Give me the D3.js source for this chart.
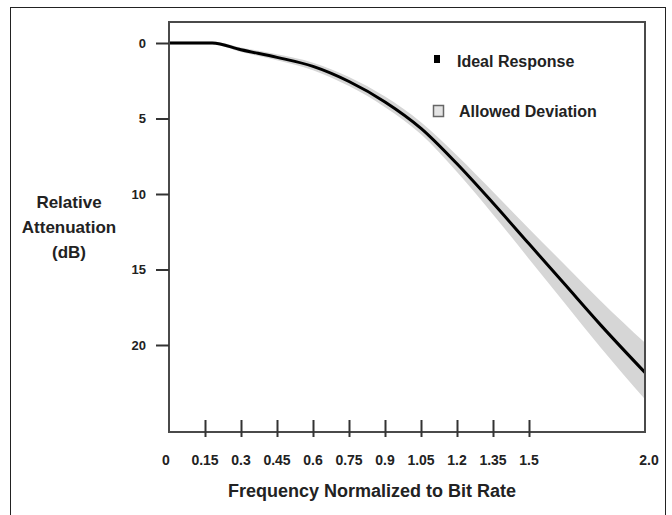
<!DOCTYPE html>
<html>
<head>
<meta charset="utf-8">
<script src="https://cdn.jsdelivr.net/npm/d3@7"></script>
<style>
  body { margin: 0; background: #fff; }
  svg { display: block; }
  text { font-family: "Liberation Sans", Arial, sans-serif; fill: #222; }
</style>
</head>
<body>
<svg id="chart"></svg>
<script>
const WIDTH = 672;
const HEIGHT = 515;

// normalized frequency (x) and relative attenuation in dB (y)
const freq = [0, 0.15, 0.18, 0.3, 0.45, 0.6, 0.75, 0.9, 1.05, 1.2, 1.35, 1.5, 1.65, 1.8, 2.0];
const ideal = [0, 0, 0, 0.45, 0.95, 1.55, 2.55, 3.9, 5.65, 8.0, 10.6, 13.3, 16.0, 18.7, 22.1];
const devUpper = [-0.1, -0.1, -0.1, 0.3, 0.75, 1.3, 2.25, 3.55, 5.25, 7.45, 9.85, 12.3, 14.7, 17.1, 20.1];
const devLower = [0.1, 0.1, 0.1, 0.6, 1.15, 1.8, 2.85, 4.25, 6.05, 8.55, 11.35, 14.3, 17.25, 20.2, 23.9];

const xTicks = [0.15, 0.3, 0.45, 0.6, 0.75, 0.9, 1.05, 1.2, 1.35, 1.5];
const xTickLabels = ['0', '0.15', '0.3', '0.45', '0.6', '0.75', '0.9', '1.05', '1.2', '1.35', '1.5', '2.0'];
const yTicks = [0, 5, 10, 15, 20];

const legendItems = ['Ideal Response', 'Allowed Deviation'];

const PLOT = { left: 169, top: 22, right: 645, bottom: 432 };

const svg = d3.select('#chart')
    .attr('width', WIDTH)
    .attr('height', HEIGHT);

// outer frame
svg.append('rect')
    .attr('x', 10.5).attr('y', 7.5)
    .attr('width', 655).attr('height', 530)
    .attr('fill', 'none')
    .attr('stroke', '#222')
    .attr('stroke-width', 1);

const xScale = d3.scaleLinear().domain([0, 2]).range([169, 649]);
const yScale = d3.scaleLinear().domain([0, 20]).range([43, 345]);

const data = freq.map((f, i) => ({ x: f, y: ideal[i], up: devUpper[i], lo: devLower[i] }));

svg.append('clipPath')
    .attr('id', 'plot-clip')
    .append('rect')
    .attr('x', PLOT.left).attr('y', PLOT.top)
    .attr('width', PLOT.right - PLOT.left)
    .attr('height', PLOT.bottom - PLOT.top);

const plot = svg.append('g').attr('clip-path', 'url(#plot-clip)');

// allowed deviation band
const band = d3.area()
    .x(d => xScale(d.x))
    .y0(d => yScale(d.up))
    .y1(d => yScale(d.lo))
    .curve(d3.curveMonotoneX);
plot.append('path')
    .datum(data)
    .attr('d', band)
    .attr('fill', '#d6d6d6');

// ideal response
const line = d3.line()
    .x(d => xScale(d.x))
    .y(d => yScale(d.y))
    .curve(d3.curveMonotoneX);
plot.append('path')
    .datum(data)
    .attr('d', line)
    .attr('fill', 'none')
    .attr('stroke', '#000')
    .attr('stroke-width', 3);

// plot frame
svg.append('rect')
    .attr('x', PLOT.left).attr('y', PLOT.top)
    .attr('width', PLOT.right - PLOT.left)
    .attr('height', PLOT.bottom - PLOT.top)
    .attr('fill', 'none')
    .attr('stroke', '#4a4a4a')
    .attr('stroke-width', 2);

// y axis
const yAxis = d3.axisLeft(yScale)
    .tickValues(yTicks)
    .tickSize(13)
    .tickPadding(10)
    .tickFormat(d3.format('d'));
const yG = svg.append('g')
    .attr('transform', 'translate(' + PLOT.left + ',0)')
    .call(yAxis);
yG.select('.domain').remove();
yG.selectAll('.tick line').attr('stroke', '#333').attr('stroke-width', 2);
yG.selectAll('.tick text')
    .attr('font-size', 13)
    .attr('font-weight', 'bold')
    .attr('fill', '#333');

// x axis ticks cross the bottom edge
const xAxis = d3.axisBottom(xScale)
    .tickValues(xTicks)
    .tickSize(5)
    .tickFormat('');
const xG = svg.append('g')
    .attr('transform', 'translate(0,' + PLOT.bottom + ')')
    .call(xAxis);
xG.select('.domain').remove();
xG.selectAll('.tick line')
    .attr('y1', -12)
    .attr('stroke', '#333')
    .attr('stroke-width', 2);

const labelVals = [0, ...xTicks, 2.0];
svg.append('g')
    .selectAll('text')
    .data(labelVals)
    .join('text')
    .attr('x', (d, i) => xScale(d) - (i === 0 ? 3 : 0))
    .attr('y', 465)
    .attr('text-anchor', 'middle')
    .attr('font-size', 14)
    .attr('font-weight', 'bold')
    .attr('fill', '#333')
    .text((d, i) => xTickLabels[i]);

// axis titles
svg.append('text')
    .attr('x', 372)
    .attr('y', 497)
    .attr('text-anchor', 'middle')
    .attr('font-size', 18)
    .attr('font-weight', 'bold')
    .text('Frequency Normalized to Bit Rate');

svg.append('text')
    .attr('text-anchor', 'middle')
    .attr('font-size', 17)
    .attr('font-weight', 'bold')
    .selectAll('tspan')
    .data(['Relative', 'Attenuation', '(dB)'])
    .join('tspan')
    .attr('x', 69)
    .attr('y', (d, i) => 208 + i * 25)
    .text(d => d);

// legend
const legend = svg.append('g');
legend.append('rect')
    .attr('x', 434).attr('y', 55)
    .attr('width', 6).attr('height', 8)
    .attr('fill', '#000');
legend.append('rect')
    .attr('x', 433.5).attr('y', 105.5)
    .attr('width', 10).attr('height', 11)
    .attr('fill', '#e4e4e4')
    .attr('stroke', '#666')
    .attr('stroke-width', 1.5);
legend.selectAll('text')
    .data(legendItems)
    .join('text')
    .attr('x', (d, i) => i === 0 ? 457 : 459)
    .attr('y', (d, i) => 67 + i * 50)
    .attr('font-size', 16)
    .attr('font-weight', 'bold')
    .attr('fill', '#333')
    .text(d => d);
</script>
</body>
</html>
